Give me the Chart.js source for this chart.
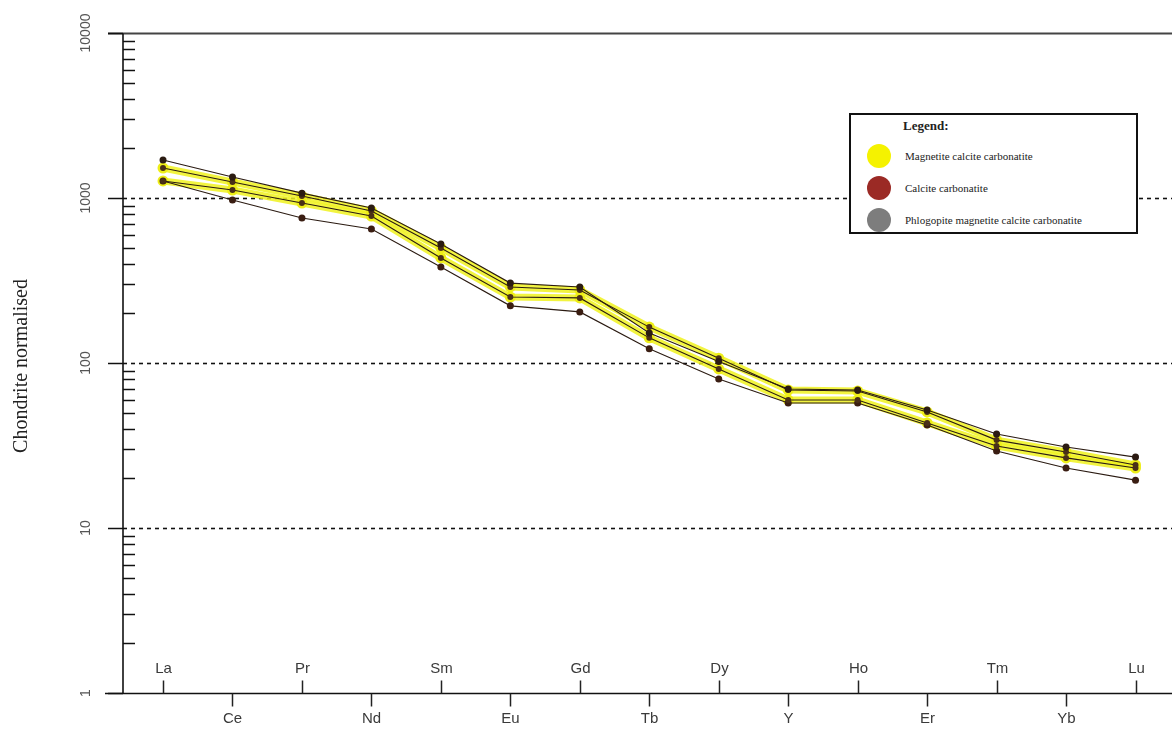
<!DOCTYPE html>
<html>
<head>
<meta charset="utf-8">
<title>Chondrite normalised REE pattern</title>
<script src="https://cdn.jsdelivr.net/npm/chart.js@4.4.1/dist/chart.umd.min.js"></script>
<style>
  html, body { margin: 0; padding: 0; background: #ffffff; }
  #wrap { position: relative; width: 1172px; height: 731px; }
  #legendBox {
    position: absolute; left: 849px; top: 113px; width: 289px; height: 121px;
    border: 2px solid #111; background: #fff; box-sizing: border-box;
    font-family: "Liberation Serif", "Times New Roman", serif; color: #222;
  }
  #legendBox .title { position: absolute; left: 52px; top: 3px; font-weight: bold; font-size: 13px; }
  #legendBox .item { position: absolute; left: 16px; height: 24px; display: flex; align-items: center; font-size: 11px; }
  #legendBox .dot { width: 24px; height: 24px; border-radius: 50%; margin-right: 14px; }
</style>
</head>
<body>
<div id="wrap">
  <canvas id="c" width="1172" height="731"></canvas>
  <div id="legendBox"></div>
</div>
<script>
// Element order along the x axis
const categories = ['La','Ce','Pr','Nd','Sm','Eu','Gd','Tb','Dy','Y','Ho','Er','Tm','Yb','Lu'];

// Chondrite-normalised concentrations per sample
const calciteUpper   = [1700, 1340, 1070, 870, 526, 305, 289, 152, 102, 69.6, 68.6, 51.9, 37.1, 31.0, 26.9];
const magnetiteUpper = [1520, 1250, 1028, 834, 498, 289, 277, 165, 107, 68.6, 67.6, 50.5, 34.1, 28.9, 24.1];
const magnetiteLower = [1268, 1118,  932, 778, 433, 251, 248, 142, 92.0, 59.7, 59.7, 43.3, 31.4, 26.6, 23.1];
const phlogopiteLow  = [1268,  972,  757, 649, 382, 222, 204, 122, 80.0, 57.2, 57.2, 42.1, 29.3, 23.1, 19.5];

// Axis ticks
const yMajorTicks = [1, 10, 100, 1000, 10000];
const yGridValues = [10, 100, 1000];

// Legend entries
const legendLabels = ['Magnetite calcite carbonatite', 'Calcite carbonatite', 'Phlogopite magnetite calcite carbonatite'];
const legendColors = ['#f5f200', '#9b2a25', '#7d7d7d'];

const toPoints = arr => arr.map((v, i) => ({ x: i, y: v }));

const DARK = '#2b1b12';
const YELLOW_BAND = 'rgba(240,242,30,0.85)';

function thinLine(data, pointColor, radius) {
  return {
    data: toPoints(data), borderColor: DARK, borderWidth: 1.1,
    pointRadius: radius, pointBackgroundColor: pointColor, pointBorderColor: pointColor,
    pointBorderWidth: 0, tension: 0, order: 1
  };
}
function yellowBand(data) {
  return {
    data: toPoints(data), borderColor: YELLOW_BAND, borderWidth: 7,
    pointRadius: 5.5, pointBackgroundColor: '#eeee18', pointBorderWidth: 0,
    borderCapStyle: 'round', borderJoinStyle: 'round', tension: 0, order: 5
  };
}

// Axes, frame, grid and labels drawn from the chart scales
const axisPlugin = {
  id: 'reeAxes',
  beforeDatasetsDraw(chart) {
    const { ctx, chartArea: a, scales: { y } } = chart;
    ctx.save();
    ctx.strokeStyle = '#111';
    ctx.lineWidth = 1.6;
    ctx.setLineDash([4, 4]);
    yGridValues.forEach(v => {
      const py = Math.round(y.getPixelForValue(v)) + 0.5;
      ctx.beginPath(); ctx.moveTo(a.left, py); ctx.lineTo(chart.width, py); ctx.stroke();
    });
    ctx.setLineDash([]);
    ctx.restore();
  },
  afterDatasetsDraw(chart) {
    const { ctx, chartArea: a, scales: { x, y } } = chart;
    const W = chart.width;
    ctx.save();
    // top frame line
    const top = Math.round(y.getPixelForValue(10000)) + 0.5;
    ctx.strokeStyle = '#444'; ctx.lineWidth = 2;
    ctx.beginPath(); ctx.moveTo(a.left - 15, top); ctx.lineTo(W, top); ctx.stroke();
    // left axis
    ctx.strokeStyle = '#111'; ctx.lineWidth = 1.6;
    ctx.beginPath(); ctx.moveTo(a.left, top); ctx.lineTo(a.left, a.bottom); ctx.stroke();
    // bottom axis
    const bot = Math.round(y.getPixelForValue(1)) + 0.5;
    ctx.beginPath(); ctx.moveTo(a.left - 18, bot); ctx.lineTo(W, bot); ctx.stroke();
    // y major ticks (outside) and minor ticks (inside)
    ctx.lineWidth = 1.5;
    yMajorTicks.forEach((v, k) => {
      const py = Math.round(y.getPixelForValue(v)) + 0.5;
      ctx.beginPath(); ctx.moveTo(a.left - 15, py); ctx.lineTo(a.left, py); ctx.stroke();
      if (k < yMajorTicks.length - 1) {
        for (let m = 2; m <= 9; m++) {
          const pm = Math.round(y.getPixelForValue(v * m)) + 0.5;
          ctx.beginPath(); ctx.moveTo(a.left, pm); ctx.lineTo(a.left + 12, pm); ctx.stroke();
        }
      }
    });
    // y tick labels, rotated
    ctx.fillStyle = '#555';
    ctx.font = '14px "Liberation Sans", Arial, sans-serif';
    ctx.textAlign = 'center'; ctx.textBaseline = 'middle';
    yMajorTicks.forEach(v => {
      const py = y.getPixelForValue(v);
      ctx.save(); ctx.translate(86, py); ctx.rotate(-Math.PI / 2);
      ctx.fillText(String(v), 0, 0); ctx.restore();
    });
    // y title
    ctx.fillStyle = '#222';
    ctx.font = '20px "Liberation Serif", "Times New Roman", serif';
    ctx.save(); ctx.translate(22, 366); ctx.rotate(-Math.PI / 2);
    ctx.fillText('Chondrite normalised', 0, 0); ctx.restore();
    // x ticks and alternating labels
    ctx.strokeStyle = '#222'; ctx.lineWidth = 1.5;
    ctx.fillStyle = '#3a3a3a';
    ctx.font = '15px "Liberation Sans", Arial, sans-serif';
    categories.forEach((c, i) => {
      const px = Math.round(x.getPixelForValue(i)) + 0.5;
      ctx.beginPath();
      if (i % 2 === 0) {
        ctx.moveTo(px, bot); ctx.lineTo(px, bot - 13); ctx.stroke();
        ctx.fillText(c, px, bot - 25);
      } else {
        ctx.moveTo(px, bot); ctx.lineTo(px, bot + 13); ctx.stroke();
        ctx.fillText(c, px, bot + 25);
      }
    });
    ctx.restore();
  }
};

new Chart(document.getElementById('c'), {
  type: 'line',
  data: {
    datasets: [
      thinLine(calciteUpper, DARK, 3.5),
      thinLine(magnetiteUpper, '#4a3018', 3),
      thinLine(magnetiteLower, '#4a3018', 3),
      thinLine(phlogopiteLow, '#3a1d12', 3.5),
      yellowBand(magnetiteUpper),
      yellowBand(magnetiteLower)
    ]
  },
  options: {
    responsive: false,
    animation: false,
    devicePixelRatio: 1,
    layout: { padding: { left: 123, top: 33, right: 0, bottom: 38 } },
    plugins: { legend: { display: false }, tooltip: { enabled: false } },
    scales: {
      x: { type: 'linear', min: -0.576, max: 14.446, display: false },
      y: { type: 'logarithmic', min: 1, max: 10000, display: false }
    }
  },
  plugins: [axisPlugin]
});

// Legend box
const box = document.getElementById('legendBox');
const t = document.createElement('div');
t.className = 'title'; t.textContent = 'Legend:';
box.appendChild(t);
legendLabels.forEach((lab, i) => {
  const row = document.createElement('div');
  row.className = 'item';
  row.style.top = (29 + i * 32) + 'px';
  const dot = document.createElement('span');
  dot.className = 'dot'; dot.style.background = legendColors[i];
  const txt = document.createElement('span'); txt.textContent = lab;
  row.appendChild(dot); row.appendChild(txt);
  box.appendChild(row);
});
</script>
</body>
</html>
